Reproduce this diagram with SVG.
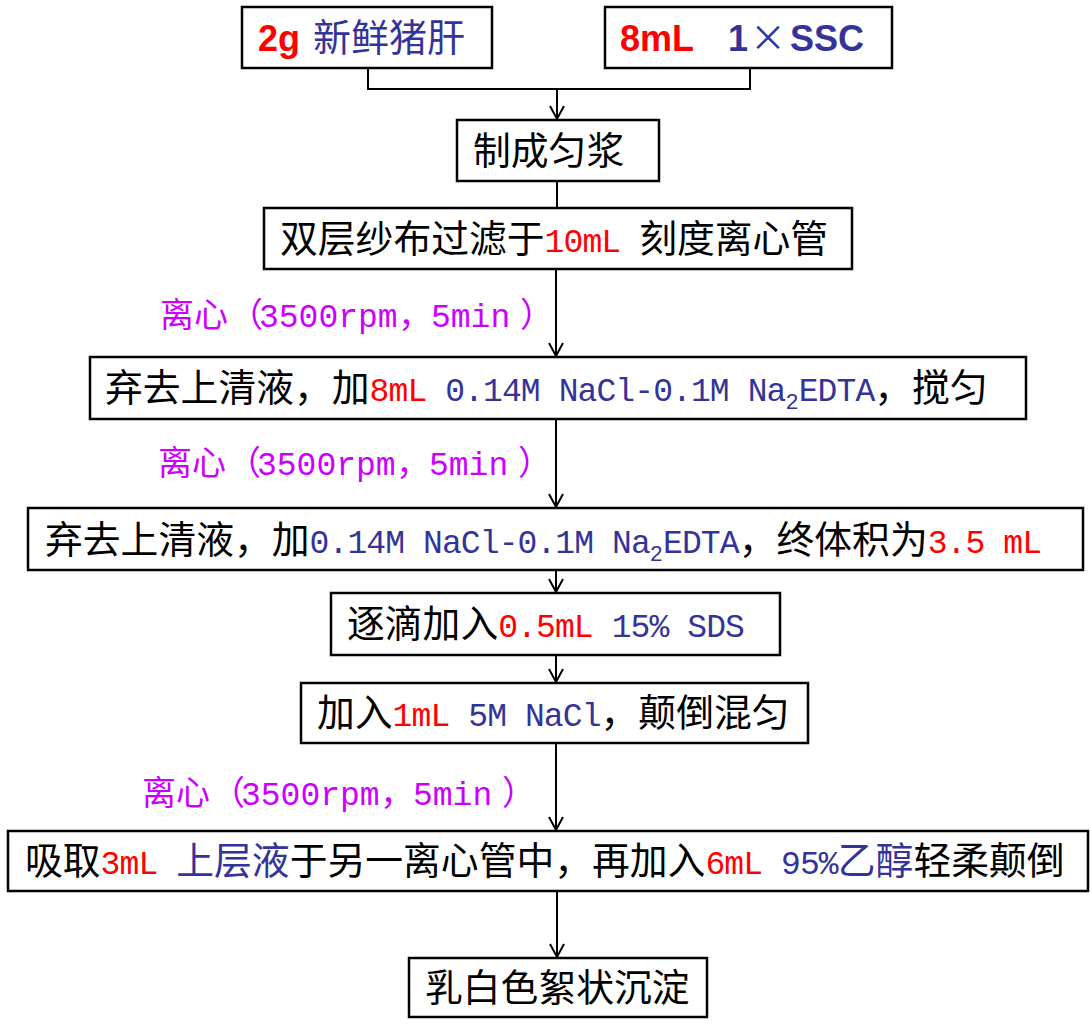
<svg xmlns="http://www.w3.org/2000/svg" width="1090" height="1031" viewBox="0 0 1090 1031">
<defs>
<marker id="arr" markerUnits="userSpaceOnUse" markerWidth="20" markerHeight="20" viewBox="-15 -10 20 20" refX="0" refY="0" orient="auto">
<path d="M-13,-7 L0,0 L-13,7" fill="none" stroke="#000" stroke-width="2"/>
</marker>
</defs>
<style>
.box{fill:#fff;stroke:#000;stroke-width:2.5}
.ln{fill:none;stroke:#000;stroke-width:2}
.t{font-family:"Noto Sans CJK SC",sans-serif;font-size:37.8px;fill:#000}
.m{font-family:"Liberation Mono",monospace;font-size:33px;letter-spacing:-0.9px}
.sub{font-family:"Liberation Mono",monospace;font-size:22px}
.r{fill:#ff0000}
.b{fill:#333399}
.ar{font-family:"Liberation Sans",Arial,sans-serif;font-weight:bold;font-size:36px}
.lab{font-family:"Noto Sans CJK SC",sans-serif;font-size:34px;fill:#cc00ff}
.lm{font-family:"Liberation Mono",monospace;font-size:33px}
</style>
<g id="connectors">
<polyline class="ln" points="368,68 368,89 750,89 750,68"/>
<line class="ln" x1="557" y1="89" x2="557" y2="119" marker-end="url(#arr)"/>
<line class="ln" x1="557" y1="181" x2="557" y2="208"/>
<line class="ln" x1="556" y1="269" x2="556" y2="356" marker-end="url(#arr)"/>
<line class="ln" x1="556" y1="419" x2="556" y2="507" marker-end="url(#arr)"/>
<line class="ln" x1="556" y1="570" x2="556" y2="592" marker-end="url(#arr)"/>
<line class="ln" x1="556" y1="655" x2="556" y2="682" marker-end="url(#arr)"/>
<line class="ln" x1="556" y1="743" x2="556" y2="830" marker-end="url(#arr)"/>
<line class="ln" x1="557" y1="891" x2="557" y2="957" marker-end="url(#arr)"/>
</g>
<g id="labels">
<text class="lab" y="327"><tspan x="160">离心</tspan><tspan x="229">（</tspan><tspan x="259" class="lm">3500rpm</tspan><tspan x="398">，</tspan><tspan x="431" class="lm">5min</tspan><tspan x="520">）</tspan></text>
<text class="lab" y="475"><tspan x="158">离心</tspan><tspan x="227">（</tspan><tspan x="257" class="lm">3500rpm</tspan><tspan x="396">，</tspan><tspan x="429" class="lm">5min</tspan><tspan x="518">）</tspan></text>
<text class="lab" y="805"><tspan x="142">离心</tspan><tspan x="211">（</tspan><tspan x="241" class="lm">3500rpm</tspan><tspan x="380">，</tspan><tspan x="413" class="lm">5min</tspan><tspan x="502">）</tspan></text>
</g>
<g id="n1">
<rect class="box" x="242" y="7" width="250" height="61"/>
<text x="258" y="51"><tspan class="ar r">2g</tspan><tspan x="313" class="b" style="font-family:'Noto Sans CJK SC',sans-serif;font-size:38px">新鲜猪肝</tspan></text>
</g>
<g id="n2">
<rect class="box" x="605" y="7" width="287" height="61"/>
<text x="620" y="51"><tspan class="ar r">8mL</tspan><tspan x="728" class="ar b">1</tspan><tspan x="750" class="b" style="font-family:'Noto Sans CJK SC',sans-serif;font-size:36px">×</tspan><tspan x="790" class="ar b">SSC</tspan></text>
</g>
<g id="n3">
<rect class="box" x="457" y="120" width="202" height="61"/>
<text class="t" x="473" y="164">制成匀浆</text>
</g>
<g id="n4">
<rect class="box" x="264" y="208" width="588" height="61"/>
<text class="t" x="280" y="252">双层纱布过滤于<tspan class="m r">10mL </tspan>刻度离心管</text>
</g>
<g id="n5">
<rect class="box" x="90" y="357" width="936" height="62"/>
<text class="t" x="105" y="401">弃去上清液，加<tspan class="m r">8mL </tspan><tspan class="m b">0.14M NaCl-0.1M Na</tspan><tspan class="sub b" dy="8">2</tspan><tspan class="m b" dy="-8">EDTA</tspan>，搅匀</text>
</g>
<g id="n6">
<rect class="box" x="28" y="508" width="1055" height="62"/>
<text class="t" x="45" y="553">弃去上清液，加<tspan class="m b">0.14M NaCl-0.1M Na</tspan><tspan class="sub b" dy="8">2</tspan><tspan class="m b" dy="-8">EDTA</tspan>，终体积为<tspan class="m r">3.5 mL</tspan></text>
</g>
<g id="n7">
<rect class="box" x="331" y="593" width="449" height="62"/>
<text class="t" x="347" y="637">逐滴加入<tspan class="m r">0.5mL </tspan><tspan class="m b">15% SDS</tspan></text>
</g>
<g id="n8">
<rect class="box" x="301" y="683" width="507" height="60"/>
<text class="t" x="317" y="726">加入<tspan class="m r">1mL </tspan><tspan class="m b">5M NaCl</tspan>，颠倒混匀</text>
</g>
<g id="n9">
<rect class="box" x="8" y="831" width="1080" height="60"/>
<text class="t" x="25" y="874">吸取<tspan class="m r">3mL </tspan><tspan class="b">上层液</tspan>于另一离心管中，再加入<tspan class="m r">6mL </tspan><tspan class="m b">95%</tspan><tspan class="b">乙醇</tspan>轻柔颠倒</text>
</g>
<g id="n10">
<rect class="box" x="409" y="958" width="298" height="59"/>
<text class="t" x="425" y="1001">乳白色絮状沉淀</text>
</g>
</svg>
